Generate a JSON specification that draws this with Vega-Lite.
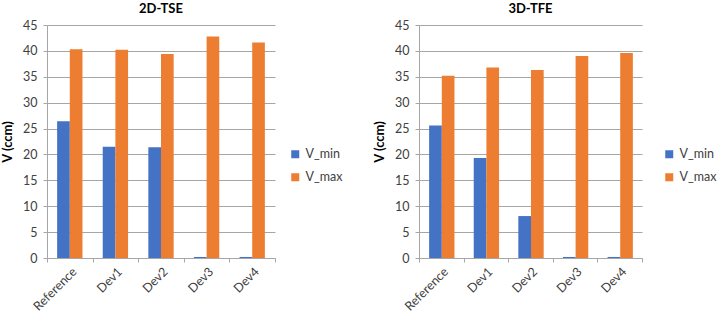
{
  "$schema": "https://vega.github.io/schema/vega-lite/v6.json",
  "padding": {"left": 1, "top": 3, "right": 0, "bottom": 0},
  "background": "white",
  "config": {
    "view": {"stroke": null},
    "font": "Lato",
    "title": {"fontSize": 13, "fontWeight": "bold", "color": "#000", "offset": 3, "font": "Lato"},
    "axis": {
      "labelFont": "Lato", "titleFont": "Lato",
      "labelColor": "#404040", "labelFontSize": 12.5,
      "domainColor": "#a6a6a6", "tickColor": "#a6a6a6", "gridColor": "#a6a6a6",
      "tickSize": 4
    },
    "legend": {"labelFont": "Lato", "labelFontSize": 12.5, "labelColor": "#404040", "symbolType": "square", "symbolSize": 64, "rowPadding": 10, "orient": "none", "legendX": 242, "legendY": 123},
    "concat": {"spacing": 30}
  },
  "datasets": {
    "tse": [
      {"device": "Reference", "series": "V_min", "v": 26.4},
      {"device": "Reference", "series": "V_max", "v": 40.3},
      {"device": "Dev1", "series": "V_min", "v": 21.5},
      {"device": "Dev1", "series": "V_max", "v": 40.2},
      {"device": "Dev2", "series": "V_min", "v": 21.4},
      {"device": "Dev2", "series": "V_max", "v": 39.4},
      {"device": "Dev3", "series": "V_min", "v": 0.2},
      {"device": "Dev3", "series": "V_max", "v": 42.8},
      {"device": "Dev4", "series": "V_min", "v": 0.2},
      {"device": "Dev4", "series": "V_max", "v": 41.6}
    ],
    "tfe": [
      {"device": "Reference", "series": "V_min", "v": 25.6},
      {"device": "Reference", "series": "V_max", "v": 35.2},
      {"device": "Dev1", "series": "V_min", "v": 19.3},
      {"device": "Dev1", "series": "V_max", "v": 36.8},
      {"device": "Dev2", "series": "V_min", "v": 8.1},
      {"device": "Dev2", "series": "V_max", "v": 36.3},
      {"device": "Dev3", "series": "V_min", "v": 0.2},
      {"device": "Dev3", "series": "V_max", "v": 39.0},
      {"device": "Dev4", "series": "V_min", "v": 0.2},
      {"device": "Dev4", "series": "V_max", "v": 39.6}
    ]
  },
  "resolve": {"legend": {"color": "independent"}},
  "hconcat": [
    {
      "title": "2D-TSE",
      "width": 228, "height": 233,
      "data": {"name": "tse"},
      "mark": {"type": "bar"},
      "encoding": {
        "x": {"field": "device", "type": "nominal", "sort": null, "title": null,
              "scale": {"paddingInner": 0, "paddingOuter": 0},
              "axis": {"labelAngle": -45, "tickBand": "extent", "grid": false, "labelPadding": 3}},
        "xOffset": {"field": "series", "type": "nominal", "sort": ["V_min", "V_max"],
                    "scale": {"paddingOuter": 0.8, "paddingInner": 0}},
        "y": {"field": "v", "type": "quantitative", "title": "V (ccm)",
              "scale": {"domain": [0, 45]},
              "axis": {"values": [0,5,10,15,20,25,30,35,40,45], "titleFontSize": 13, "titleFontWeight": "bold", "titleColor": "#000", "labelPadding": 6, "titlePadding": 8}},
        "color": {"field": "series", "type": "nominal", "sort": ["V_min", "V_max"], "title": null,
                  "scale": {"domain": ["V_min", "V_max"], "range": ["#4472C4", "#ED7D31"]}}
      }
    },
    {
      "title": "3D-TFE",
      "width": 223, "height": 233,
      "data": {"name": "tfe"},
      "mark": {"type": "bar"},
      "encoding": {
        "x": {"field": "device", "type": "nominal", "sort": null, "title": null,
              "scale": {"paddingInner": 0, "paddingOuter": 0},
              "axis": {"labelAngle": -45, "tickBand": "extent", "grid": false, "labelPadding": 3}},
        "xOffset": {"field": "series", "type": "nominal", "sort": ["V_min", "V_max"],
                    "scale": {"paddingOuter": 0.8, "paddingInner": 0}},
        "y": {"field": "v", "type": "quantitative", "title": "V (ccm)",
              "scale": {"domain": [0, 45]},
              "axis": {"values": [0,5,10,15,20,25,30,35,40,45], "titleFontSize": 13, "titleFontWeight": "bold", "titleColor": "#000", "labelPadding": 6, "titlePadding": 8}},
        "color": {"field": "series", "type": "nominal", "sort": ["V_min", "V_max"], "title": null,
                  "scale": {"domain": ["V_min", "V_max"], "range": ["#4472C4", "#ED7D31"]},
                  "legend": {"legendX": 244}}
      }
    }
  ]
}
